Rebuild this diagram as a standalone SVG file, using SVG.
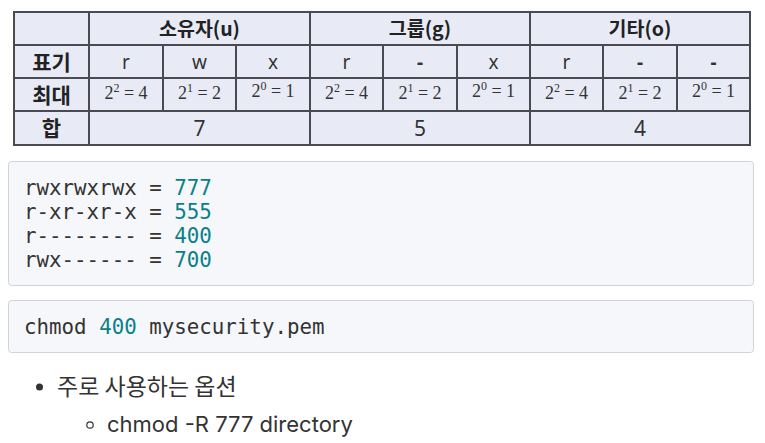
<svg xmlns="http://www.w3.org/2000/svg" width="765" height="443" viewBox="0 0 765 443">
  <style>
    .grid { stroke: #4a4a52; stroke-width: 2; fill: none; }
    .hdr { font-family: "Noto Sans CJK KR", "Noto Sans", sans-serif; font-weight: 700; font-size: 19.5px; fill: #222; text-anchor: middle; }
    .lbl { font-family: "Noto Sans CJK KR", "Noto Sans", sans-serif; font-weight: 700; font-size: 21px; fill: #222; text-anchor: middle; }
    .cell { font-family: "Noto Sans", "Liberation Sans", sans-serif; font-size: 19px; fill: #333; text-anchor: middle; }
    .dash { font-family: "Noto Sans", "Liberation Sans", sans-serif; font-weight: 700; font-size: 19px; fill: #333; text-anchor: middle; }
    .frm { font-family: "Liberation Serif", "DejaVu Serif", serif; font-size: 18px; fill: #333; text-anchor: middle; }
    .sup { font-size: 12px; }
    .sum { font-family: "Noto Sans", "Liberation Sans", sans-serif; font-size: 21px; fill: #333; text-anchor: middle; }
    .codebox { fill: #f6f7fa; stroke: #d2d3d8; stroke-width: 1; }
    .code { font-family: "DejaVu Sans Mono", "Liberation Mono", monospace; font-size: 20.8px; fill: #333; }
    .num { fill: #0a7f8a; }
    .body { font-family: "Inter", "Noto Sans CJK KR", sans-serif; font-size: 22px; fill: #333; }
    .kr { font-family: "Noto Sans CJK KR", sans-serif; font-size: 23px; fill: #333; }
  </style>

  <g id="permission-table">
    <rect x="14" y="12" width="736" height="133" fill="#e8ebf6"/>
    <rect class="grid" x="14" y="12" width="736" height="133"/>
    <path class="grid" d="M14 45H750M14 78H750M14 111H750M89 12V145M310 12V145M530 12V145M163 45V111M236 45V111M383 45V111M457 45V111M603 45V111M677 45V111"/>
    <text class="hdr" x="199.5" y="36">소유자(u)</text>
    <text class="hdr" x="420" y="36">그룹(g)</text>
    <text class="hdr" x="640" y="36">기타(o)</text>
    <text class="lbl" x="51.5" y="69.5">표기</text>
    <text class="lbl" x="51.5" y="102.5">최대</text>
    <text class="lbl" x="51.5" y="136">합</text>

    <text class="cell" x="126" y="68.5">r</text>
    <text class="cell" x="199.5" y="68.5">w</text>
    <text class="cell" x="273" y="68.5">x</text>
    <text class="cell" x="346.5" y="68.5">r</text>
    <text class="dash" x="420" y="68.5">-</text>
    <text class="cell" x="493.5" y="68.5">x</text>
    <text class="cell" x="566.5" y="68.5">r</text>
    <text class="dash" x="640" y="68.5">-</text>
    <text class="dash" x="713.5" y="68.5">-</text>

    <text class="frm" x="126" y="99">2<tspan class="sup" dy="-7">2</tspan><tspan dy="7"> = 4</tspan></text>
    <text class="frm" x="199.5" y="99">2<tspan class="sup" dy="-7">1</tspan><tspan dy="7"> = 2</tspan></text>
    <text class="frm" x="273" y="97">2<tspan class="sup" dy="-7">0</tspan><tspan dy="7"> = 1</tspan></text>
    <text class="frm" x="346.5" y="99">2<tspan class="sup" dy="-7">2</tspan><tspan dy="7"> = 4</tspan></text>
    <text class="frm" x="420" y="99">2<tspan class="sup" dy="-7">1</tspan><tspan dy="7"> = 2</tspan></text>
    <text class="frm" x="493.5" y="97">2<tspan class="sup" dy="-7">0</tspan><tspan dy="7"> = 1</tspan></text>
    <text class="frm" x="566.5" y="99">2<tspan class="sup" dy="-7">2</tspan><tspan dy="7"> = 4</tspan></text>
    <text class="frm" x="640" y="99">2<tspan class="sup" dy="-7">1</tspan><tspan dy="7"> = 2</tspan></text>
    <text class="frm" x="713.5" y="97">2<tspan class="sup" dy="-7">0</tspan><tspan dy="7"> = 1</tspan></text>

    <text class="sum" x="199.5" y="136">7</text>
    <text class="sum" x="420" y="136">5</text>
    <text class="sum" x="640" y="136">4</text>
  </g>

  <g id="code-examples">
    <rect class="codebox" x="8.5" y="161.5" width="745" height="124" rx="3"/>
    <text class="code" x="24" y="195">rwxrwxrwx = <tspan class="num">777</tspan></text>
    <text class="code" x="24" y="219">r-xr-xr-x = <tspan class="num">555</tspan></text>
    <text class="code" x="24" y="243">r-------- = <tspan class="num">400</tspan></text>
    <text class="code" x="24" y="267">rwx------ = <tspan class="num">700</tspan></text>
  </g>

  <g id="code-chmod">
    <rect class="codebox" x="8.5" y="300.5" width="745" height="52" rx="3"/>
    <text class="code" x="24" y="334">chmod <tspan class="num">400</tspan> mysecurity.pem</text>
  </g>

  <g id="bullets">
    <circle cx="39.5" cy="387" r="3.5" fill="#333"/>
    <text class="kr" x="57" y="395">주로 사용하는 옵션</text>
    <circle cx="90" cy="425" r="3.2" fill="none" stroke="#333" stroke-width="1.2"/>
    <text class="body" x="107" y="432">chmod -R 777 directory</text>
  </g>
</svg>
